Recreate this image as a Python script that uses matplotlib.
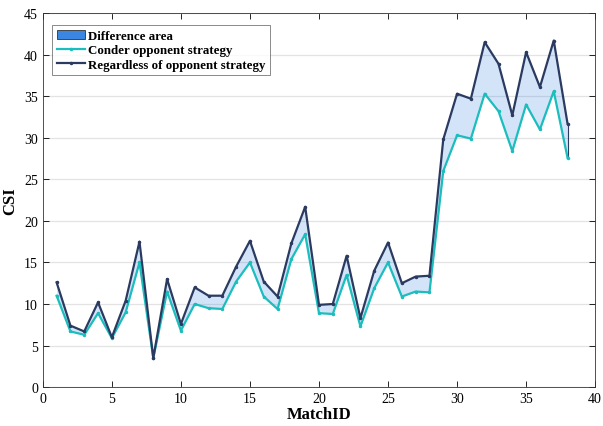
import matplotlib.pyplot as plt
import numpy as np
from matplotlib.patches import Patch
from matplotlib.lines import Line2D

plt.rcParams['font.family'] = ['Liberation Serif', 'DejaVu Serif']

match_id = list(range(1, 39))
regardless = [12.6, 7.4, 6.7, 10.2, 6.0, 10.4, 17.5, 3.5, 13.0, 7.6,
              12.0, 11.0, 11.0, 14.5, 17.6, 12.7, 10.9, 17.3, 21.7, 9.9,
              10.0, 15.8, 8.3, 14.0, 17.4, 12.5, 13.3, 13.4, 29.8, 35.3,
              34.7, 41.5, 38.9, 32.7, 40.3, 36.1, 41.7, 31.7]
conder = [11.0, 6.7, 6.3, 8.9, 5.9, 9.0, 15.0, 3.5, 11.5, 6.8,
          10.0, 9.5, 9.4, 12.7, 15.0, 10.9, 9.4, 15.4, 18.4, 8.9,
          8.8, 13.5, 7.3, 11.9, 15.0, 10.9, 11.5, 11.4, 26.0, 30.3,
          29.9, 35.3, 33.2, 28.4, 34.0, 31.0, 35.6, 27.6]

navy = '#2a3a60'
teal = '#1bbdbd'
blue = '#3a86e0'

fig = plt.figure(figsize=(6.03, 4.27), dpi=100)
ax = fig.add_axes([0.071, 0.091, 0.916, 0.876])

x = np.array(match_id)
ax.fill_between(x, conder, regardless, color=blue, alpha=0.22, linewidth=0)
ax.plot([x[-1], x[-1]], [conder[-1], regardless[-1]], color=navy, lw=0.8)
ax.plot(x, conder, color=teal, lw=1.6, marker='.', markersize=3)
ax.plot(x, regardless, color=navy, lw=1.6, marker='.', markersize=3)

ax.set_xlim(0, 40)
ax.set_ylim(0, 45)
ax.set_xticks(range(0, 41, 5))
ax.set_yticks(range(0, 46, 5))
ax.tick_params(direction='in', top=True, right=True, labelsize=10, length=4, width=0.6)
ax.yaxis.grid(True, color='#e3e3e3', lw=0.9)
ax.set_axisbelow(True)
for s in ax.spines.values():
    s.set_linewidth(0.6)
    s.set_color('#333333')

ax.set_xlabel('MatchID', fontsize=12, fontweight='bold', labelpad=1)
ax.set_ylabel('CSI', fontsize=12, fontweight='bold', labelpad=4)

handles = [Patch(facecolor=blue, edgecolor='#333333', lw=0.6),
           Line2D([], [], color=teal, lw=1.6, marker='.', markersize=3),
           Line2D([], [], color=navy, lw=1.6, marker='.', markersize=3)]
labels = ['Difference area', 'Conder opponent strategy', 'Regardless of opponent strategy']
leg = ax.legend(handles, labels, loc='upper left', bbox_to_anchor=(0.005, 0.985),
                fancybox=False, edgecolor='#555555',
                prop={'weight': 'bold', 'size': 9.3}, handlelength=2.2, handletextpad=0.2,
                labelspacing=0.2, borderaxespad=0.5, borderpad=0.35)
leg.get_frame().set_linewidth(0.6)

fig.savefig('out.png', dpi=100)
